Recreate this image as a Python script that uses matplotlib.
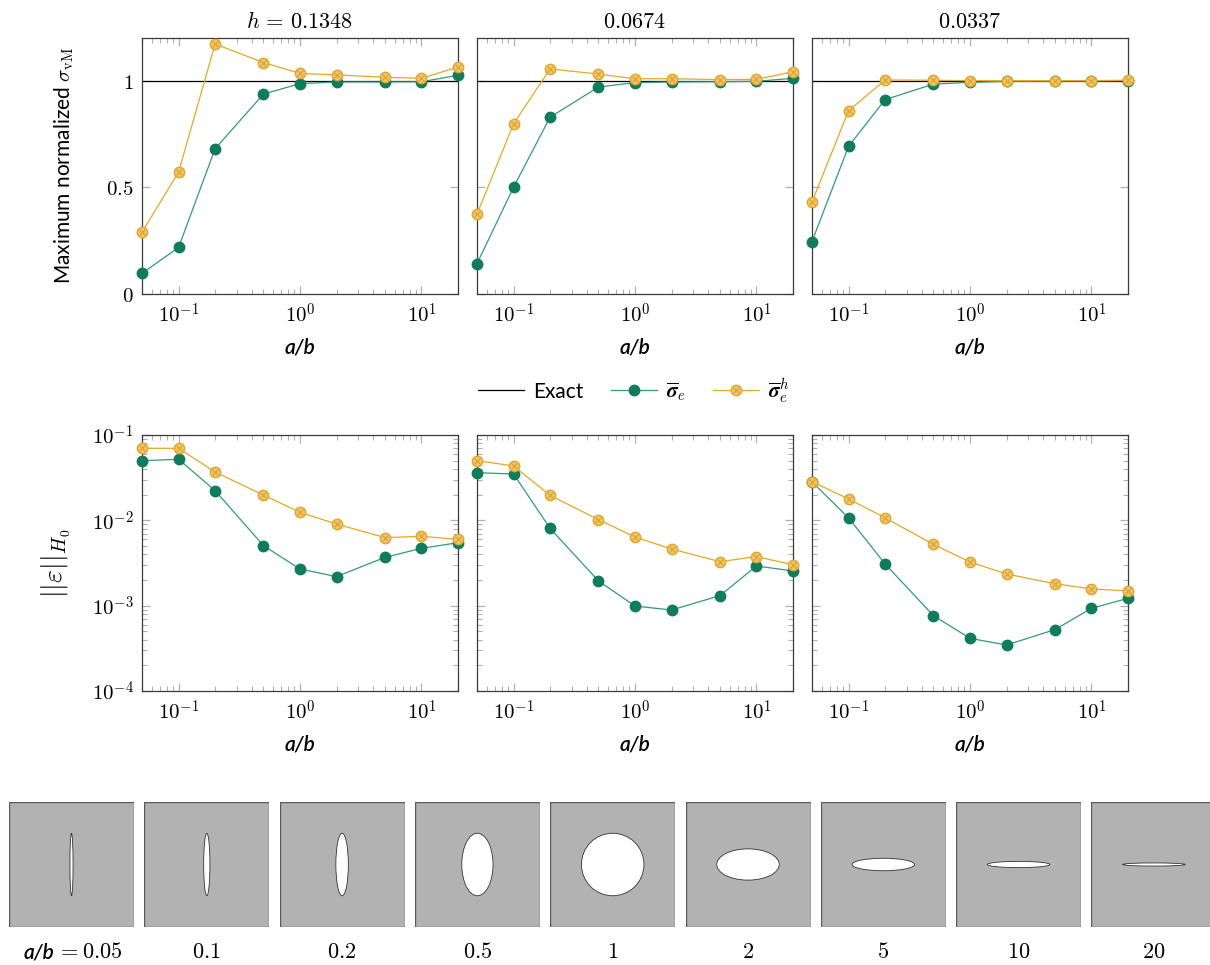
import matplotlib
matplotlib.use("Agg")
import matplotlib.pyplot as plt
from matplotlib.lines import Line2D
from matplotlib.legend_handler import HandlerTuple
from matplotlib.patches import Ellipse, Rectangle
from matplotlib.ticker import LogLocator, NullFormatter, FixedLocator
import numpy as np

plt.rcParams["mathtext.fontset"] = "cm"
plt.rcParams["font.family"] = ["Lato", "DejaVu Sans"]

# aspect ratios a/b of the elliptical hole
ratios = [0.05, 0.1, 0.2, 0.5, 1, 2, 5, 10, 20]
ratio_labels = ["0.05", "0.1", "0.2", "0.5", "1", "2", "5", "10", "20"]
mesh_sizes = ["0.1348", "0.0674", "0.0337"]

exact_value = 1.0

# maximum normalized von Mises stress, one list per mesh size
svm_elem = [
    [0.097, 0.218, 0.681, 0.937, 0.986, 0.994, 0.994, 0.995, 1.025],
    [0.142, 0.501, 0.829, 0.970, 0.991, 0.994, 0.995, 0.997, 1.011],
    [0.246, 0.692, 0.911, 0.984, 0.992, 0.997, 0.998, 0.999, 1.000],
]
svm_recov = [
    [0.290, 0.571, 1.172, 1.085, 1.034, 1.027, 1.016, 1.011, 1.064],
    [0.374, 0.798, 1.055, 1.031, 1.009, 1.009, 1.005, 1.006, 1.042],
    [0.432, 0.859, 1.003, 1.002, 1.000, 1.000, 1.000, 1.000, 1.002],
]

# energy-norm error, one list per mesh size
err_elem = [
    [0.0500, 0.0519, 0.0223, 0.00505, 0.00269, 0.00219, 0.00368, 0.00470, 0.00547],
    [0.0362, 0.0349, 0.00805, 0.00195, 0.00099, 0.00089, 0.00131, 0.00292, 0.00255],
    [0.0282, 0.0107, 0.00308, 0.000763, 0.000414, 0.000346, 0.000524, 0.000931, 0.00122],
]
err_recov = [
    [0.0698, 0.0698, 0.0368, 0.0198, 0.0124, 0.00906, 0.00627, 0.00650, 0.00598],
    [0.0500, 0.0434, 0.0196, 0.0102, 0.00638, 0.00461, 0.00328, 0.00375, 0.00302],
    [0.0284, 0.0178, 0.0107, 0.00523, 0.00325, 0.00235, 0.00181, 0.00157, 0.00149],
]

GREEN = "#107c5c"
GREEN_LINE = "#2f9c7a"
ORANGE_LINE = "#e6a822"
ORANGE_FACE = "#ecc672"
ORANGE_EDGE = "#e1a52a"
SPINE = "#3a3a3a"
TICK = "#b0b0b0"

W, H = 1210, 965
fig = plt.figure(figsize=(W / 100, H / 100), dpi=100)


def frac_box(x0, y0, x1, y1):
    return [x0 / W, 1 - y1 / H, (x1 - x0) / W, (y1 - y0) / H]


cols = [(142, 458), (477, 793), (812, 1128)]
top_rows = (38, 294)
bot_rows = (435, 691)

TFS = 15
MS = 7.5
XMS = 5


def style_axes(ax):
    for s in ax.spines.values():
        s.set_color(SPINE)
        s.set_linewidth(0.9)
    ax.tick_params(which="both", direction="in", top=True, right=True,
                   color=TICK, labelsize=TFS, pad=6)
    ax.tick_params(which="major", length=6, width=0.9)
    ax.tick_params(which="minor", length=3.5, width=0.8)
    ax.set_xscale("log")
    ax.set_xlim(0.05, 20)
    ax.xaxis.set_major_locator(FixedLocator([0.1, 1, 10]))
    ax.xaxis.set_minor_locator(LogLocator(base=10, subs=np.arange(2, 10), numticks=20))
    ax.xaxis.set_minor_formatter(NullFormatter())
    ax.set_xticklabels([r"$10^{-1}$", r"$10^{0}$", r"$10^{1}$"])
    ax.set_xlabel("a/b", fontstyle="italic", fontweight="semibold", fontsize=15, labelpad=8)


def plot_series(ax, y_el, y_rec):
    ax.plot(ratios, y_el, color=GREEN_LINE, lw=0.9, marker="o", ms=MS,
            mfc=GREEN, mec=GREEN, zorder=3, clip_on=False)
    ax.plot(ratios, y_rec, color=ORANGE_LINE, lw=0.9, marker="o", ms=MS,
            mfc=ORANGE_FACE, mec=ORANGE_EDGE, mew=1.0, zorder=4, clip_on=False)
    ax.plot(ratios, y_rec, ls="none", marker="x", ms=XMS, mec=ORANGE_EDGE,
            mew=0.9, zorder=5, clip_on=False)


# top row: maximum normalized von Mises stress
for i, (x0, x1) in enumerate(cols):
    ax = fig.add_axes(frac_box(x0, top_rows[0], x1, top_rows[1]))
    style_axes(ax)
    ax.axhline(exact_value, color="black", lw=0.9, zorder=2)
    plot_series(ax, svm_elem[i], svm_recov[i])
    ax.set_ylim(0, 1.2)
    ax.set_yticks([0, 0.5, 1])
    if i == 0:
        ax.set_yticklabels([r"$0$", r"$0.5$", r"$1$"])
        ax.set_ylabel(r"Maximum normalized $\sigma_{\mathrm{vM}}$", fontsize=15, labelpad=22)
        ax.set_title(r"$h\, =\, " + mesh_sizes[i] + "$", fontsize=16, pad=7)
    else:
        ax.set_yticklabels([])
        ax.set_title(r"$" + mesh_sizes[i] + "$", fontsize=16, pad=7)

# bottom row: error norm
for i, (x0, x1) in enumerate(cols):
    ax = fig.add_axes(frac_box(x0, bot_rows[0], x1, bot_rows[1]))
    style_axes(ax)
    ax.set_yscale("log")
    plot_series(ax, err_elem[i], err_recov[i])
    ax.set_ylim(1e-4, 1e-1)
    ax.yaxis.set_major_locator(FixedLocator([1e-4, 1e-3, 1e-2, 1e-1]))
    ax.yaxis.set_minor_locator(LogLocator(base=10, subs=np.arange(2, 10), numticks=20))
    ax.yaxis.set_minor_formatter(NullFormatter())
    if i == 0:
        ax.set_yticklabels([r"$10^{-4}$", r"$10^{-3}$", r"$10^{-2}$", r"$10^{-1}$"])
        ax.set_ylabel(r"$||\varepsilon||_{H_0}$", fontsize=20, labelpad=14)
    else:
        ax.set_yticklabels([])

# legend
h_exact = Line2D([], [], color="black", lw=0.9)
h_el = Line2D([], [], color=GREEN_LINE, lw=0.9, marker="o", ms=MS, mfc=GREEN, mec=GREEN)
h_rec = Line2D([], [], color=ORANGE_LINE, lw=0.9, marker="o", ms=MS,
               mfc=ORANGE_FACE, mec=ORANGE_EDGE)
h_rec_x = Line2D([], [], ls="none", marker="x", ms=XMS, mec=ORANGE_EDGE, mew=0.9)
fig.legend([h_exact, h_el, (h_rec, h_rec_x)],
           ["Exact", r"$\overline{\boldsymbol{\sigma}}_e$", r"$\overline{\boldsymbol{\sigma}}_e^h$"],
           handler_map={tuple: HandlerTuple(ndivide=1)},
           loc="center", bbox_to_anchor=(634 / W, 1 - 391 / H), ncol=3,
           frameon=False, fontsize=15, handlelength=2.2, columnspacing=1.3,
           handletextpad=0.45)

# bottom strip: hole geometry for each aspect ratio
sq = 125
x_start = 9
step = 135.3
y_top = 802
for k, (r, lab) in enumerate(zip(ratios, ratio_labels)):
    x0 = x_start + k * step
    ax = fig.add_axes(frac_box(x0, y_top, x0 + sq, y_top + sq))
    ax.set_xlim(0, 1)
    ax.set_ylim(0, 1)
    ax.set_axis_off()
    ax.add_patch(Rectangle((0, 0), 1, 1, facecolor="#b2b2b3", edgecolor="#5a5a5a",
                           lw=1.0, transform=ax.transAxes))
    if r <= 1:
        w_e, h_e = 0.5 * r, 0.5
    else:
        w_e, h_e = 0.5, 0.5 / r
    ax.add_patch(Ellipse((0.5, 0.5), w_e, h_e, facecolor="white",
                         edgecolor="#333333", lw=0.6))
    xc = (x0 + sq / 2) / W
    if k == 0:
        fig.text(24 / W, 1 - 952 / H, "a/b", fontstyle="italic", fontweight="semibold",
                 fontsize=15, ha="left", va="center")
        fig.text(57 / W, 1 - 952 / H, r"$= " + lab + "$", fontsize=16,
                 ha="left", va="center")
    else:
        fig.text(xc, 1 - 952 / H, r"$" + lab + "$", fontsize=16, ha="center", va="center")

fig.savefig("out.png", dpi=100)
